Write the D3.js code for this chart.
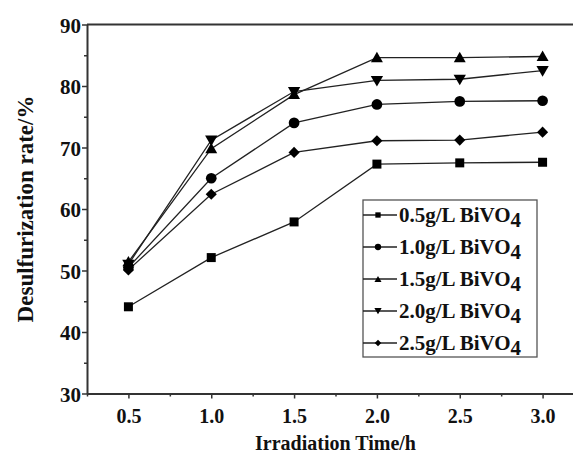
<!DOCTYPE html>
<html>
<head>
<meta charset="utf-8">
<script src="https://cdn.jsdelivr.net/npm/d3@7"></script>
<style>
  body { margin: 0; background: #fff; }
  svg { display: block; font-family: 'Liberation Serif', 'Times New Roman', serif; font-weight: bold; }
</style>
</head>
<body>
<div class="container"></div>
<script>
const times = [0.5, 1.0, 1.5, 2.0, 2.5, 3.0];
const dose05 = [44.1, 52.1, 57.9, 67.3, 67.5, 67.6];
const dose10 = [50.5, 65.0, 74.0, 77.0, 77.5, 77.6];
const dose15 = [51.4, 69.8, 78.6, 84.6, 84.6, 84.8];
const dose20 = [51.0, 71.2, 79.1, 80.9, 81.1, 82.5];
const dose25 = [50.1, 62.4, 69.2, 71.1, 71.2, 72.5];
const labels = ['0.5g/L BiVO', '1.0g/L BiVO', '1.5g/L BiVO', '2.0g/L BiVO', '2.5g/L BiVO'];
const xTicks = [0.5, 1.0, 1.5, 2.0, 2.5, 3.0];
const yTicks = [30, 40, 50, 60, 70, 80, 90];

const width = 573;
const height = 455;
const plotLeft = 87;
const plotRight = 584;
const plotTop = 24.5;
const plotBottom = 393.5;

const series = [
  { values: dose05, shape: 'square' },
  { values: dose10, shape: 'circle' },
  { values: dose15, shape: 'up' },
  { values: dose20, shape: 'down' },
  { values: dose25, shape: 'diamond' }
].map((s, i) => ({ ...s, label: labels[i] }));

const svg = d3
  .select('.container')
  .append('svg')
  .attr('width', width)
  .attr('height', height);

const x = d3.scaleLinear().domain([0.25, 3.25]).range([plotLeft, plotRight]);
const y = d3.scaleLinear().domain([30, 90]).range([plotBottom, plotTop]);

const axisColor = '#333';

// minor ticks
const xMinor = d3.range(0.25, 3.3, 0.25).filter(v => !xTicks.includes(v));
const yMinor = d3.range(35, 90, 10);

svg
  .append('g')
  .attr('transform', `translate(0, ${plotBottom})`)
  .call(d3.axisBottom(x).tickValues(xMinor).tickSize(3).tickFormat(''))
  .call(g => g.select('.domain').remove())
  .selectAll('line')
  .attr('stroke', axisColor)
  .attr('stroke-width', 1.5);

svg
  .append('g')
  .attr('transform', `translate(${plotLeft}, 0)`)
  .call(d3.axisLeft(y).tickValues(yMinor).tickSize(3).tickFormat(''))
  .call(g => g.select('.domain').remove())
  .selectAll('line')
  .attr('stroke', axisColor)
  .attr('stroke-width', 1.5);

// major axes
const xAxis = svg
  .append('g')
  .attr('class', 'x-axis')
  .attr('transform', `translate(0, ${plotBottom})`)
  .call(d3.axisBottom(x).tickValues(xTicks).tickSize(5).tickSizeOuter(0).tickFormat(d3.format('.1f')));

const yAxis = svg
  .append('g')
  .attr('class', 'y-axis')
  .attr('transform', `translate(${plotLeft}, 0)`)
  .call(d3.axisLeft(y).tickValues(yTicks).tickSize(5).tickSizeOuter(0));

[xAxis, yAxis].forEach(a => {
  a.select('.domain').attr('stroke', axisColor).attr('stroke-width', 2);
  a.selectAll('.tick line').attr('stroke', axisColor).attr('stroke-width', 1.5);
  a.selectAll('.tick text')
    .attr('fill', '#111')
    .style('font-size', '20px')
    .style('font-family', "'Liberation Serif', serif")
    .style('font-weight', 'bold');
});
xAxis.selectAll('.tick text').attr('dy', '1.05em');
yAxis.selectAll('.tick text').attr('x', -6).attr('dy', '0.36em').style('font-size', '21px');

// top and right frame
svg.append('line')
  .attr('x1', plotLeft).attr('x2', plotRight)
  .attr('y1', plotTop).attr('y2', plotTop)
  .attr('stroke', axisColor).attr('stroke-width', 2);
svg.append('line')
  .attr('x1', plotRight).attr('x2', plotRight)
  .attr('y1', plotTop).attr('y2', plotBottom)
  .attr('stroke', axisColor).attr('stroke-width', 2);

// titles
svg.append('text')
  .attr('x', (plotLeft + plotRight) / 2)
  .attr('y', 450)
  .attr('text-anchor', 'middle')
  .style('font-size', '20px')
  .attr('fill', '#111')
  .text('Irradiation Time/h');

svg.append('text')
  .attr('transform', `translate(33, ${(plotTop + plotBottom) / 2}) rotate(-90)`)
  .attr('text-anchor', 'middle')
  .style('font-size', '23px')
  .attr('fill', '#111')
  .text('Desulfurization rate/%');

const symbolFor = {
  square: d3.symbolSquare,
  circle: d3.symbolCircle,
  up: d3.symbolTriangle,
  down: d3.symbolTriangle,
  diamond: d3.symbolSquare
};
const sizeFor = { square: 81, circle: 90, up: 62, down: 66, diamond: 62 };
const turnFor = { up: 'translate(0,1)', down: 'translate(0,-1) rotate(180)', diamond: 'rotate(45)' };

const marker = (sel, shape, scale) => {
  sel.append('path')
    .attr('d', d3.symbol(symbolFor[shape], sizeFor[shape] * scale)())
    .attr('transform', turnFor[shape] || null)
    .attr('fill', '#000');
};

const line = d3.line()
  .x((d, i) => x(times[i]))
  .y(d => y(d));

const graph = svg.append('g').attr('class', 'graph');

series.forEach(s => {
  graph.append('path')
    .attr('d', line(s.values))
    .attr('fill', 'none')
    .attr('stroke', '#222')
    .attr('stroke-width', 1.3);
});

series.forEach(s => {
  graph.selectAll()
    .data(s.values)
    .enter()
    .append('g')
    .attr('transform', (d, i) => `translate(${x(times[i])}, ${y(d)})`)
    .each(function() { marker(d3.select(this), s.shape, 1); });
});

// legend
const legend = svg.append('g').attr('transform', 'translate(363, 200)');
legend.append('rect')
  .attr('width', 174)
  .attr('height', 157)
  .attr('fill', '#fff')
  .attr('stroke', '#555')
  .attr('stroke-width', 1.3);

const rows = legend.selectAll()
  .data(series)
  .enter()
  .append('g')
  .attr('transform', (d, i) => `translate(0, ${15 + i * 32})`);

rows.append('line')
  .attr('x1', 0).attr('x2', 34)
  .attr('stroke', '#222')
  .attr('stroke-width', 1.3);

rows.each(function(d) {
  const g = d3.select(this).append('g').attr('transform', 'translate(15, 0)');
  marker(g, d.shape, 0.35);
});

const txt = rows.append('text')
  .attr('x', 36)
  .attr('y', 7)
  .attr('fill', '#111')
  .style('font-size', '21px');
txt.append('tspan').text(d => d.label);
txt.append('tspan').attr('dy', 5).text('4');
</script>
</body>
</html>
